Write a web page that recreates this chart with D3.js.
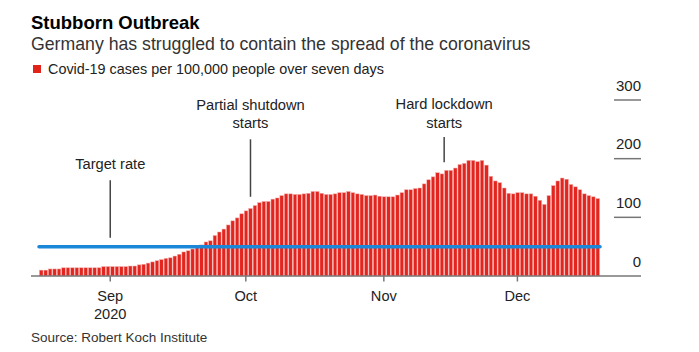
<!DOCTYPE html>
<html>
<head>
<meta charset="utf-8">
<script src="https://cdn.jsdelivr.net/npm/d3@7"></script>
<style>
  html, body { margin: 0; padding: 0; background: #fff; }
  svg { display: block; font-family: "Liberation Sans", Arial, sans-serif; }
</style>
</head>
<body>
<svg id="chart" width="699" height="352"></svg>
<script>
// ---------- data ----------
const startDate = "2020-08-16";
const cases = [
  10,10,12,12,12,
  14,14,14,14,14,14,14,14,14,
  16,16,16,16,16,16,
  17,17,19,20,22,24,26,28,30,31,34,37,41,43,46,50,53,58,60,69,75,80,87,
  94,99,106,111,115,120,125,127,127,131,133,137,140,140,139,139,140,141,144,144,
  141,139,139,140,142,142,144,142,140,139,137,137,138,136,135,135,135,138,142,147,
  147,149,
  150,157,164,169,176,174,180,180,184,190,192,197,197,195,197,189,170,162,159,150,
  141,140,142,142,140,140,136,129,122,137,154,162,167,165,156,152,147,140,137,135,
  132
];
const targetRate = 50;
const yTicks = [0, 100, 200, 300];
const xTickDates = ["2020-09-01", "2020-10-01", "2020-11-01", "2020-12-01"];
const xTickLabels = [["Sep", "2020"], ["Oct"], ["Nov"], ["Dec"]];
const annotations = [
  { date: "2020-09-01T00:00", lines: ["Target rate"], textAt: 182, lineTop: 163, lineBottom: 65 },
  { date: "2020-10-02T12:00", lines: ["Partial shutdown", "starts"], textAt: 283, lineTop: 233, lineBottom: 135 },
  { date: "2020-11-15T00:00", lines: ["Hard lockdown", "starts"], textAt: 284, lineTop: 237, lineBottom: 194 }
];

// ---------- setup ----------
const parse = d3.utcParse("%Y-%m-%d");
const parseT = d3.utcParse("%Y-%m-%dT%H:%M");
const d0 = parse(startDate);
const dates = cases.map((_, i) => d3.utcDay.offset(d0, i));
const dEnd = d3.utcDay.offset(d0, cases.length);

const svg = d3.select("#chart");
const x = d3.scaleUtc().domain([d0, dEnd]).range([39, 600]);
const y = d3.scaleLinear().domain([0, 300]).range([276, 100]);

// title etc.
svg.append("text").attr("x", 31).attr("y", 29)
  .attr("font-size", 18.5).attr("font-weight", "bold").attr("fill", "#000")
  .text("Stubborn Outbreak");
svg.append("text").attr("x", 31).attr("y", 50)
  .attr("font-size", 17.7).attr("fill", "#333")
  .text("Germany has struggled to contain the spread of the coronavirus");
svg.append("rect").attr("x", 33).attr("y", 65).attr("width", 8).attr("height", 8)
  .attr("fill", "#e2231a");
svg.append("text").attr("x", 48).attr("y", 73.5)
  .attr("font-size", 14.4).attr("fill", "#222")
  .text("Covid-19 cases per 100,000 people over seven days");

// y ticks
const yg = svg.append("g");
yTicks.forEach(t => {
  if (t > 0) {
    yg.append("line").attr("x1", 614).attr("x2", 641)
      .attr("y1", y(t)).attr("y2", y(t))
      .attr("stroke", "#777").attr("stroke-width", 1.5);
  }
  yg.append("text").attr("x", 641).attr("y", y(t) - 9.5)
    .attr("text-anchor", "end").attr("font-size", 15).attr("fill", "#222")
    .text(t);
});

// bars
const step = x(dates[1]) - x(dates[0]);
svg.append("g").selectAll("rect").data(cases).join("rect")
  .attr("x", (d, i) => x(dates[i]) + 0.45)
  .attr("width", step - 0.9)
  .attr("y", d => y(d))
  .attr("height", d => y(0) - y(d))
  .attr("fill", "#e2261f")
  .attr("stroke", "#f2a9a6")
  .attr("stroke-width", 0.5);

// axis line
svg.append("line").attr("x1", 31).attr("x2", 641)
  .attr("y1", y(0)).attr("y2", y(0))
  .attr("stroke", "#777").attr("stroke-width", 1.5);

// x ticks
xTickDates.forEach((ds, i) => {
  const xx = x(parse(ds)) + (i > 0 ? 2 : 0);
  svg.append("line").attr("x1", xx).attr("x2", xx)
    .attr("y1", y(0)).attr("y2", y(0) + 5.5)
    .attr("stroke", "#777").attr("stroke-width", 1.5);
  xTickLabels[i].forEach((l, j) => {
    svg.append("text").attr("x", xx).attr("y", 300.5 + j * 18)
      .attr("text-anchor", "middle").attr("font-size", 14.6).attr("fill", "#222")
      .text(l);
  });
});

// target line
svg.append("line").attr("x1", x(d0)).attr("x2", x(dEnd))
  .attr("y1", y(targetRate)).attr("y2", y(targetRate))
  .attr("stroke", "#1b87d9").attr("stroke-width", 3.5)
  .attr("stroke-linecap", "round");

// annotations
annotations.forEach(a => {
  const xx = x(parseT(a.date));
  svg.append("line").attr("x1", xx).attr("x2", xx)
    .attr("y1", y(a.lineTop)).attr("y2", y(a.lineBottom))
    .attr("stroke", "#444").attr("stroke-width", 1.5);
  a.lines.forEach((l, j) => {
    svg.append("text").attr("x", xx).attr("y", y(a.textAt) + j * 18.5)
      .attr("text-anchor", "middle").attr("font-size", 14.7).attr("fill", "#222")
      .text(l);
  });
});

// source
svg.append("text").attr("x", 31).attr("y", 342)
  .attr("font-size", 13.5).attr("fill", "#333")
  .text("Source: Robert Koch Institute");
</script>
</body>
</html>
